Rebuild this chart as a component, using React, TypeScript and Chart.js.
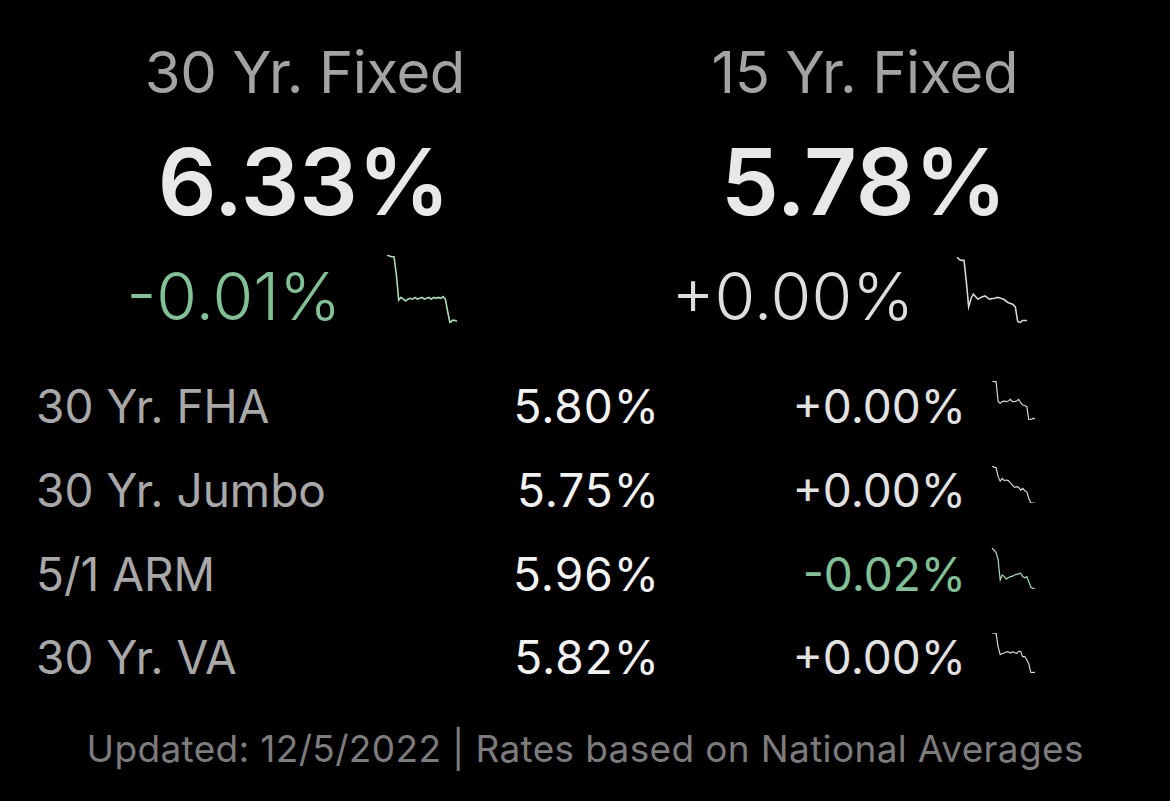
import React, { useEffect, useRef } from "react";
import { Chart, registerables } from "chart.js";

Chart.register(...registerables);

// ---- data ----
const headlineTitles = ["30 Yr. Fixed", "15 Yr. Fixed"];
const headlineRates = ["6.33%", "5.78%"];
const headlineChanges = ["-0.01%", "+0.00%"];
const headlineDirections = ["down", "flat"];

const rowLabels = ["30 Yr. FHA", "30 Yr. Jumbo", "5/1 ARM", "30 Yr. VA"];
const rowRates = ["5.80%", "5.75%", "5.96%", "5.82%"];
const rowChanges = ["+0.00%", "+0.00%", "-0.02%", "+0.00%"];
const rowDirections = ["flat", "flat", "down", "flat"];

const footerText = "Updated: 12/5/2022 | Rates based on National Averages";

const spark30Fixed = [7.08, 7.07, 7.06, 7.06, 6.86, 6.57, 6.6, 6.58, 6.56, 6.58, 6.59, 6.58, 6.6, 6.58, 6.59, 6.6, 6.58, 6.59, 6.6, 6.58, 6.6, 6.59, 6.6, 6.59, 6.61, 6.58, 6.44, 6.31, 6.34, 6.34, 6.33];
const spark15Fixed = [6.53, 6.5, 6.49, 6.49, 6.24, 5.94, 6.04, 6.09, 6.06, 6.03, 6.05, 6.06, 6.07, 6.05, 6.03, 6.04, 6.04, 6.05, 6.05, 6.04, 6.03, 6.01, 5.99, 5.98, 5.97, 5.94, 5.77, 5.75, 5.78, 5.78, 5.78];
const sparkFHA = [6.48, 6.47, 6.47, 6.11, 6.08, 6.11, 6.12, 6.11, 6.12, 6.15, 6.11, 6.11, 6.12, 6.15, 6.09, 6.05, 6.04, 6.02, 5.78, 5.79, 5.81, 5.8];
const sparkJumbo = [6.41, 6.39, 6.38, 6.22, 6.14, 6.19, 6.15, 6.16, 6.15, 6.11, 6.07, 6.03, 6.04, 6.03, 5.98, 6.01, 5.97, 5.95, 5.83, 5.75, 5.75, 5.75];
const sparkARM = [6.69, 6.65, 6.61, 6.48, 6.12, 6.21, 6.18, 6.14, 6.16, 6.18, 6.19, 6.21, 6.22, 6.23, 6.24, 6.18, 6.16, 6.18, 6.09, 5.99, 5.97, 5.96];
const sparkVA = [6.53, 6.53, 6.52, 6.28, 6.14, 6.16, 6.17, 6.19, 6.19, 6.17, 6.19, 6.18, 6.16, 6.2, 6.2, 6.1, 6.11, 6.05, 5.97, 5.81, 5.82, 5.82];

const headlineSparks = [spark30Fixed, spark15Fixed];
const rowSparks = [sparkFHA, sparkJumbo, sparkARM, sparkVA];

// ---- styling ----
const FONT = "Inter, 'Noto Sans', Roboto, sans-serif";
const GREEN_TEXT = "#80c196";
const GREEN_LINE = "#a9dbb9";
const WHITE_LINE = "#d6d6d6";

type SparkProps = {
  data: number[];
  color: string;
  left: number;
  top: number;
  width: number;
  height: number;
  lineWidth: number;
};

function Sparkline({ data, color, left, top, width, height, lineWidth }: SparkProps) {
  const ref = useRef<HTMLCanvasElement | null>(null);
  useEffect(() => {
    if (!ref.current) return;
    const chart = new Chart(ref.current, {
      type: "line",
      data: {
        labels: data.map((_, i) => String(i)),
        datasets: [
          {
            data,
            borderColor: color,
            borderWidth: lineWidth,
            pointRadius: 0,
            tension: 0,
            fill: false,
            borderJoinStyle: "miter",
          },
        ],
      },
      options: {
        responsive: false,
        animation: false,
        devicePixelRatio: 1,
        layout: { padding: 2 },
        plugins: { legend: { display: false }, tooltip: { enabled: false } },
        scales: {
          x: { display: false, offset: false },
          y: { display: false, min: Math.min(...data), max: Math.max(...data) },
        },
      },
    });
    return () => chart.destroy();
  }, [data, color, width, height, lineWidth]);
  return (
    <canvas
      ref={ref}
      width={width}
      height={height}
      style={{ position: "absolute", left, top, width, height }}
    />
  );
}

type TextProps = {
  text: string;
  size: number;
  baseline: number;
  color: string;
  weight?: number;
  align: "left" | "center" | "right";
  x: number;
  letterSpacing?: number;
};

function Label({ text, size, baseline, color, weight = 400, align, x, letterSpacing = 0 }: TextProps) {
  const top = baseline - 0.864 * size;
  const style: React.CSSProperties = {
    position: "absolute",
    top,
    fontFamily: FONT,
    fontSize: size,
    lineHeight: `${size}px`,
    fontWeight: weight,
    color,
    whiteSpace: "nowrap",
    letterSpacing,
  };
  if (align === "left") style.left = x;
  else if (align === "right") style.right = 1170 - x - letterSpacing;
  else {
    style.left = x - 1000 + letterSpacing / 2;
    style.width = 2000;
    style.textAlign = "center";
  }
  return <div style={style}>{text}</div>;
}

export default function App() {
  useEffect(() => {
    document.body.style.margin = "0";
    document.body.style.background = "#000";
  }, []);

  const headCenters = [305, 865];
  const changeRights = [341, 914];
  const headSparkPos = [
    { left: 385, top: 253, width: 74, height: 72 },
    { left: 955, top: 255, width: 74, height: 70 },
  ];
  const rowBaselines = [423, 507, 591, 674];
  const rowSparkPos = [
    { top: 379, height: 43 },
    { top: 464, height: 41 },
    { top: 546, height: 45 },
    { top: 631, height: 44 },
  ];

  return (
    <div
      style={{
        position: "fixed",
        left: 0,
        top: 0,
        width: 1170,
        height: 801,
        background: "#000",
        overflow: "hidden",
      }}
    >
      {headlineTitles.map((t, i) => (
        <Label key={"t" + i} text={t} size={58} baseline={93} color="#a3a3a3" align="center" x={headCenters[i]} letterSpacing={-0.4} />
      ))}
      {headlineRates.map((t, i) => (
        <Label key={"r" + i} text={t} size={92} weight={600} baseline={215} color="#e8e8e8" align="center" x={headCenters[i] - 1} />
      ))}
      {headlineChanges.map((t, i) => (
        <Label
          key={"c" + i}
          text={t}
          size={66}
          weight={300}
          baseline={320}
          color={headlineDirections[i] === "down" ? GREEN_TEXT : "#dedede"}
          align="right"
          x={changeRights[i]}
        />
      ))}
      {headlineSparks.map((d, i) => (
        <Sparkline
          key={"hs" + i}
          data={d}
          color={headlineDirections[i] === "down" ? GREEN_LINE : WHITE_LINE}
          lineWidth={1.6}
          {...headSparkPos[i]}
        />
      ))}

      {rowLabels.map((t, i) => (
        <React.Fragment key={"row" + i}>
          <Label text={t} size={46} baseline={rowBaselines[i]} color="#a8a8a8" align="left" x={36} />
          <Label text={rowRates[i]} size={46} baseline={rowBaselines[i]} color="#f2f2f2" align="right" x={659} letterSpacing={1} />
          <Label
            text={rowChanges[i]}
            size={46}
            baseline={rowBaselines[i]}
            color={rowDirections[i] === "down" ? GREEN_TEXT : "#e2e2e2"}
            align="right"
            x={966}
          />
          <Sparkline
            data={rowSparks[i]}
            color={rowDirections[i] === "down" ? GREEN_LINE : WHITE_LINE}
            lineWidth={1.2}
            left={990}
            width={47}
            {...rowSparkPos[i]}
          />
        </React.Fragment>
      ))}

      <Label text={footerText} size={37} baseline={762} color="#7c7c7c" align="center" x={585} letterSpacing={0.35} />
    </div>
  );
}
